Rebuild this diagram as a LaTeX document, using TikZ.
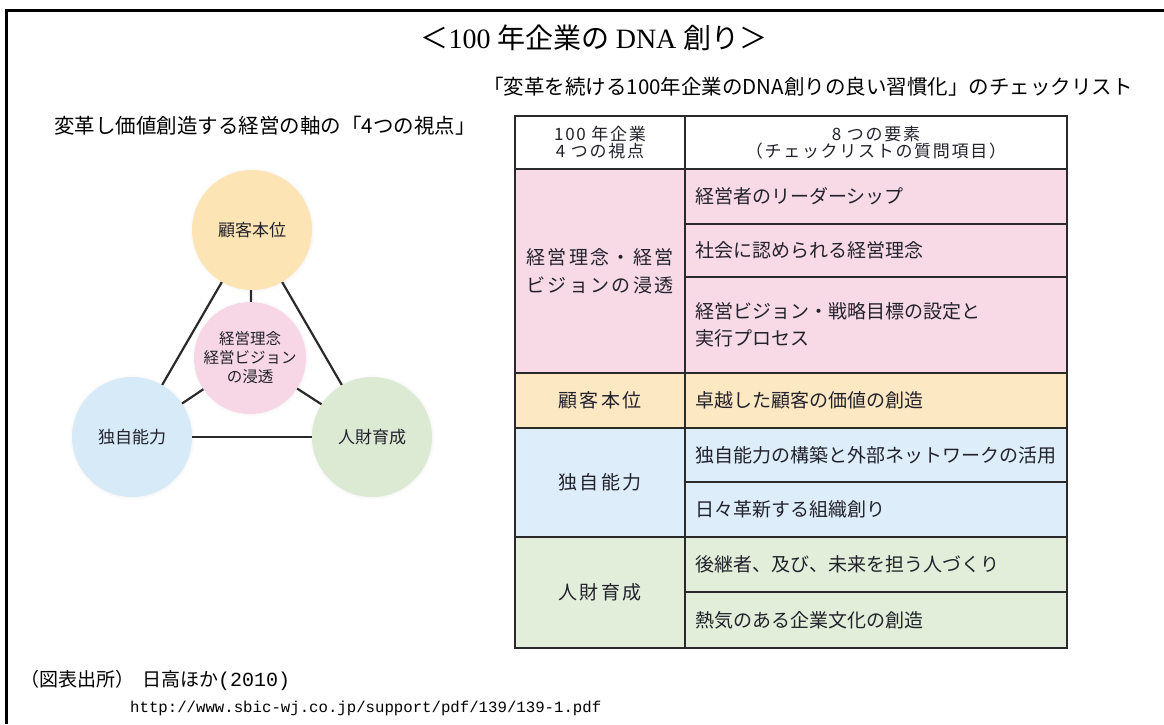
\documentclass[tikz,border=0pt]{standalone}
\usepackage{fontspec}
\usetikzlibrary{shadows}
\setmainfont{Liberation Serif}
\newfontfamily\jp{Noto Sans CJK JP}
\newfontfamily\jpls[LetterSpace=12]{Noto Sans CJK JP}
\newfontfamily\jphd[LetterSpace=10]{Noto Sans CJK JP}
\newfontfamily\monofam{Liberation Mono}
\definecolor{cpeach}{HTML}{FCE4B4}
\definecolor{cpink}{HTML}{F7D7E5}
\definecolor{cblue}{HTML}{D7EAF8}
\definecolor{cgreen}{HTML}{DDEAD3}
\definecolor{tpink}{HTML}{F8DAE7}
\definecolor{tpeach}{HTML}{FDE8C4}
\definecolor{tblue}{HTML}{DDEEFA}
\definecolor{tgreen}{HTML}{E2EED9}
\definecolor{tline}{HTML}{2A2A2A}
\definecolor{txt}{HTML}{22222C}
\tikzset{
  circ/.style={circle, minimum size=120pt, inner sep=0pt, align=center, text=txt,
    font=\jp\fontsize{17}{19}\selectfont,
    circular drop shadow={shadow xshift=0pt, shadow yshift=0pt, shadow scale=1.05, opacity=0.18, fill=gray}},
  conn/.style={line width=2.2pt, draw=tline},
  cellL/.style={draw=tline, line width=1.6pt, minimum width=170pt, inner sep=0pt,
    align=center, text=txt, font=\jpls\fontsize{19}{28}\selectfont},
  cellR/.style={draw=tline, line width=1.6pt, text width=362pt, inner xsep=10pt,
    inner ysep=0pt, align=left, text=txt, font=\jp\fontsize{19}{27}\selectfont},
  cellH/.style={draw=tline, line width=1.6pt, inner sep=0pt, align=center, fill=white,
    text=txt, font=\jphd\fontsize{17}{17}\selectfont},
  lbl/.style={inner sep=0pt, font=\jp\fontsize{20.5}{24}\selectfont}
}
\begin{document}
\begin{tikzpicture}[x=1pt,y=-1pt]
\useasboundingbox (0,0) rectangle (1164,724);
% frame (top and left edges)
\draw[line width=3pt] (6,724) -- (6,10) -- (1164,10);
% title
\node[inner sep=0pt] (title) at (594,38)
  {\fontsize{28}{32}\selectfont\jp ＜\rmfamily 100 \jp 年企業の \rmfamily DNA \jp 創り＞};
\node[lbl] (sub) at (808,87) {「変革を続ける100年企業のDNA創りの良い習慣化」のチェックリスト};
\node[lbl] (lefthead) at (265,126) {変革し価値創造する経営の軸の「4つの視点」};
% circles
\node[circ, fill=cpeach] (kok) at (252,230) {顧客本位};
\node[circ, fill=cpink, minimum size=112pt, font=\jp\fontsize{15.5}{19}\selectfont] (cen) at (250,358) {経営理念\\経営ビジョン\\の浸透};
\node[circ, fill=cblue] (dok) at (132,437) {独自能力};
\node[circ, fill=cgreen] (jin) at (372,437) {人財育成};
\draw[conn] (kok) -- (dok);
\draw[conn] (kok) -- (jin);
\draw[conn] (dok) -- (jin);
\draw[conn] (kok) -- (cen);
\draw[conn] (cen) -- (dok);
\draw[conn] (cen) -- (jin);
% table
\node[cellH, minimum width=170pt, minimum height=53pt] (hL) at (600,142.5) {100 年企業\\4 つの視点};
\node[cellH, minimum width=382pt, minimum height=53pt] (hR) at (876,142.5) {8 つの要素\\（チェックリストの質問項目）};
\node[cellL, fill=tpink, minimum height=204pt] (L1) at (600,271) {経営理念・経営\\ビジョンの浸透};
\node[cellL, fill=tpeach, minimum height=55pt] (L2) at (600,400.5) {顧客本位};
\node[cellL, fill=tblue, minimum height=109pt] (L3) at (600,482.5) {独自能力};
\node[cellL, fill=tgreen, minimum height=111pt] (L4) at (600,592.5) {人財育成};
\node[cellR, fill=tpink, minimum height=55pt] (R1) at (876,196.5) {経営者のリーダーシップ};
\node[cellR, fill=tpink, minimum height=53pt] (R2) at (876,250.5) {社会に認められる経営理念};
\node[cellR, fill=tpink, minimum height=96pt] (R3) at (876,325) {経営ビジョン・戦略目標の設定と\\実行プロセス};
\node[cellR, fill=tpeach, minimum height=55pt] (R4) at (876,400.5) {卓越した顧客の価値の創造};
\node[cellR, fill=tblue, minimum height=54pt] (R5) at (876,455) {独自能力の構築と外部ネットワークの活用};
\node[cellR, fill=tblue, minimum height=55pt] (R6) at (876,509.5) {日々革新する組織創り};
\node[cellR, fill=tgreen, minimum height=55pt] (R7) at (876,564.5) {後継者、及び、未来を担う人づくり};
\node[cellR, fill=tgreen, minimum height=56pt] (R8) at (876,620) {熱気のある企業文化の創造};
% source
\node[inner sep=0pt, anchor=west] (src) at (20,680)
  {\jp\fontsize{19}{22}\selectfont （図表出所）\hspace{8pt}日高ほか\monofam\fontsize{20}{22}\selectfont(2010)};
\node[inner sep=0pt, anchor=west] (url) at (130,708)
  {\monofam\fontsize{15.7}{18}\selectfont http://www.sbic-wj.co.jp/support/pdf/139/139-1.pdf};
\end{tikzpicture}
\end{document}
